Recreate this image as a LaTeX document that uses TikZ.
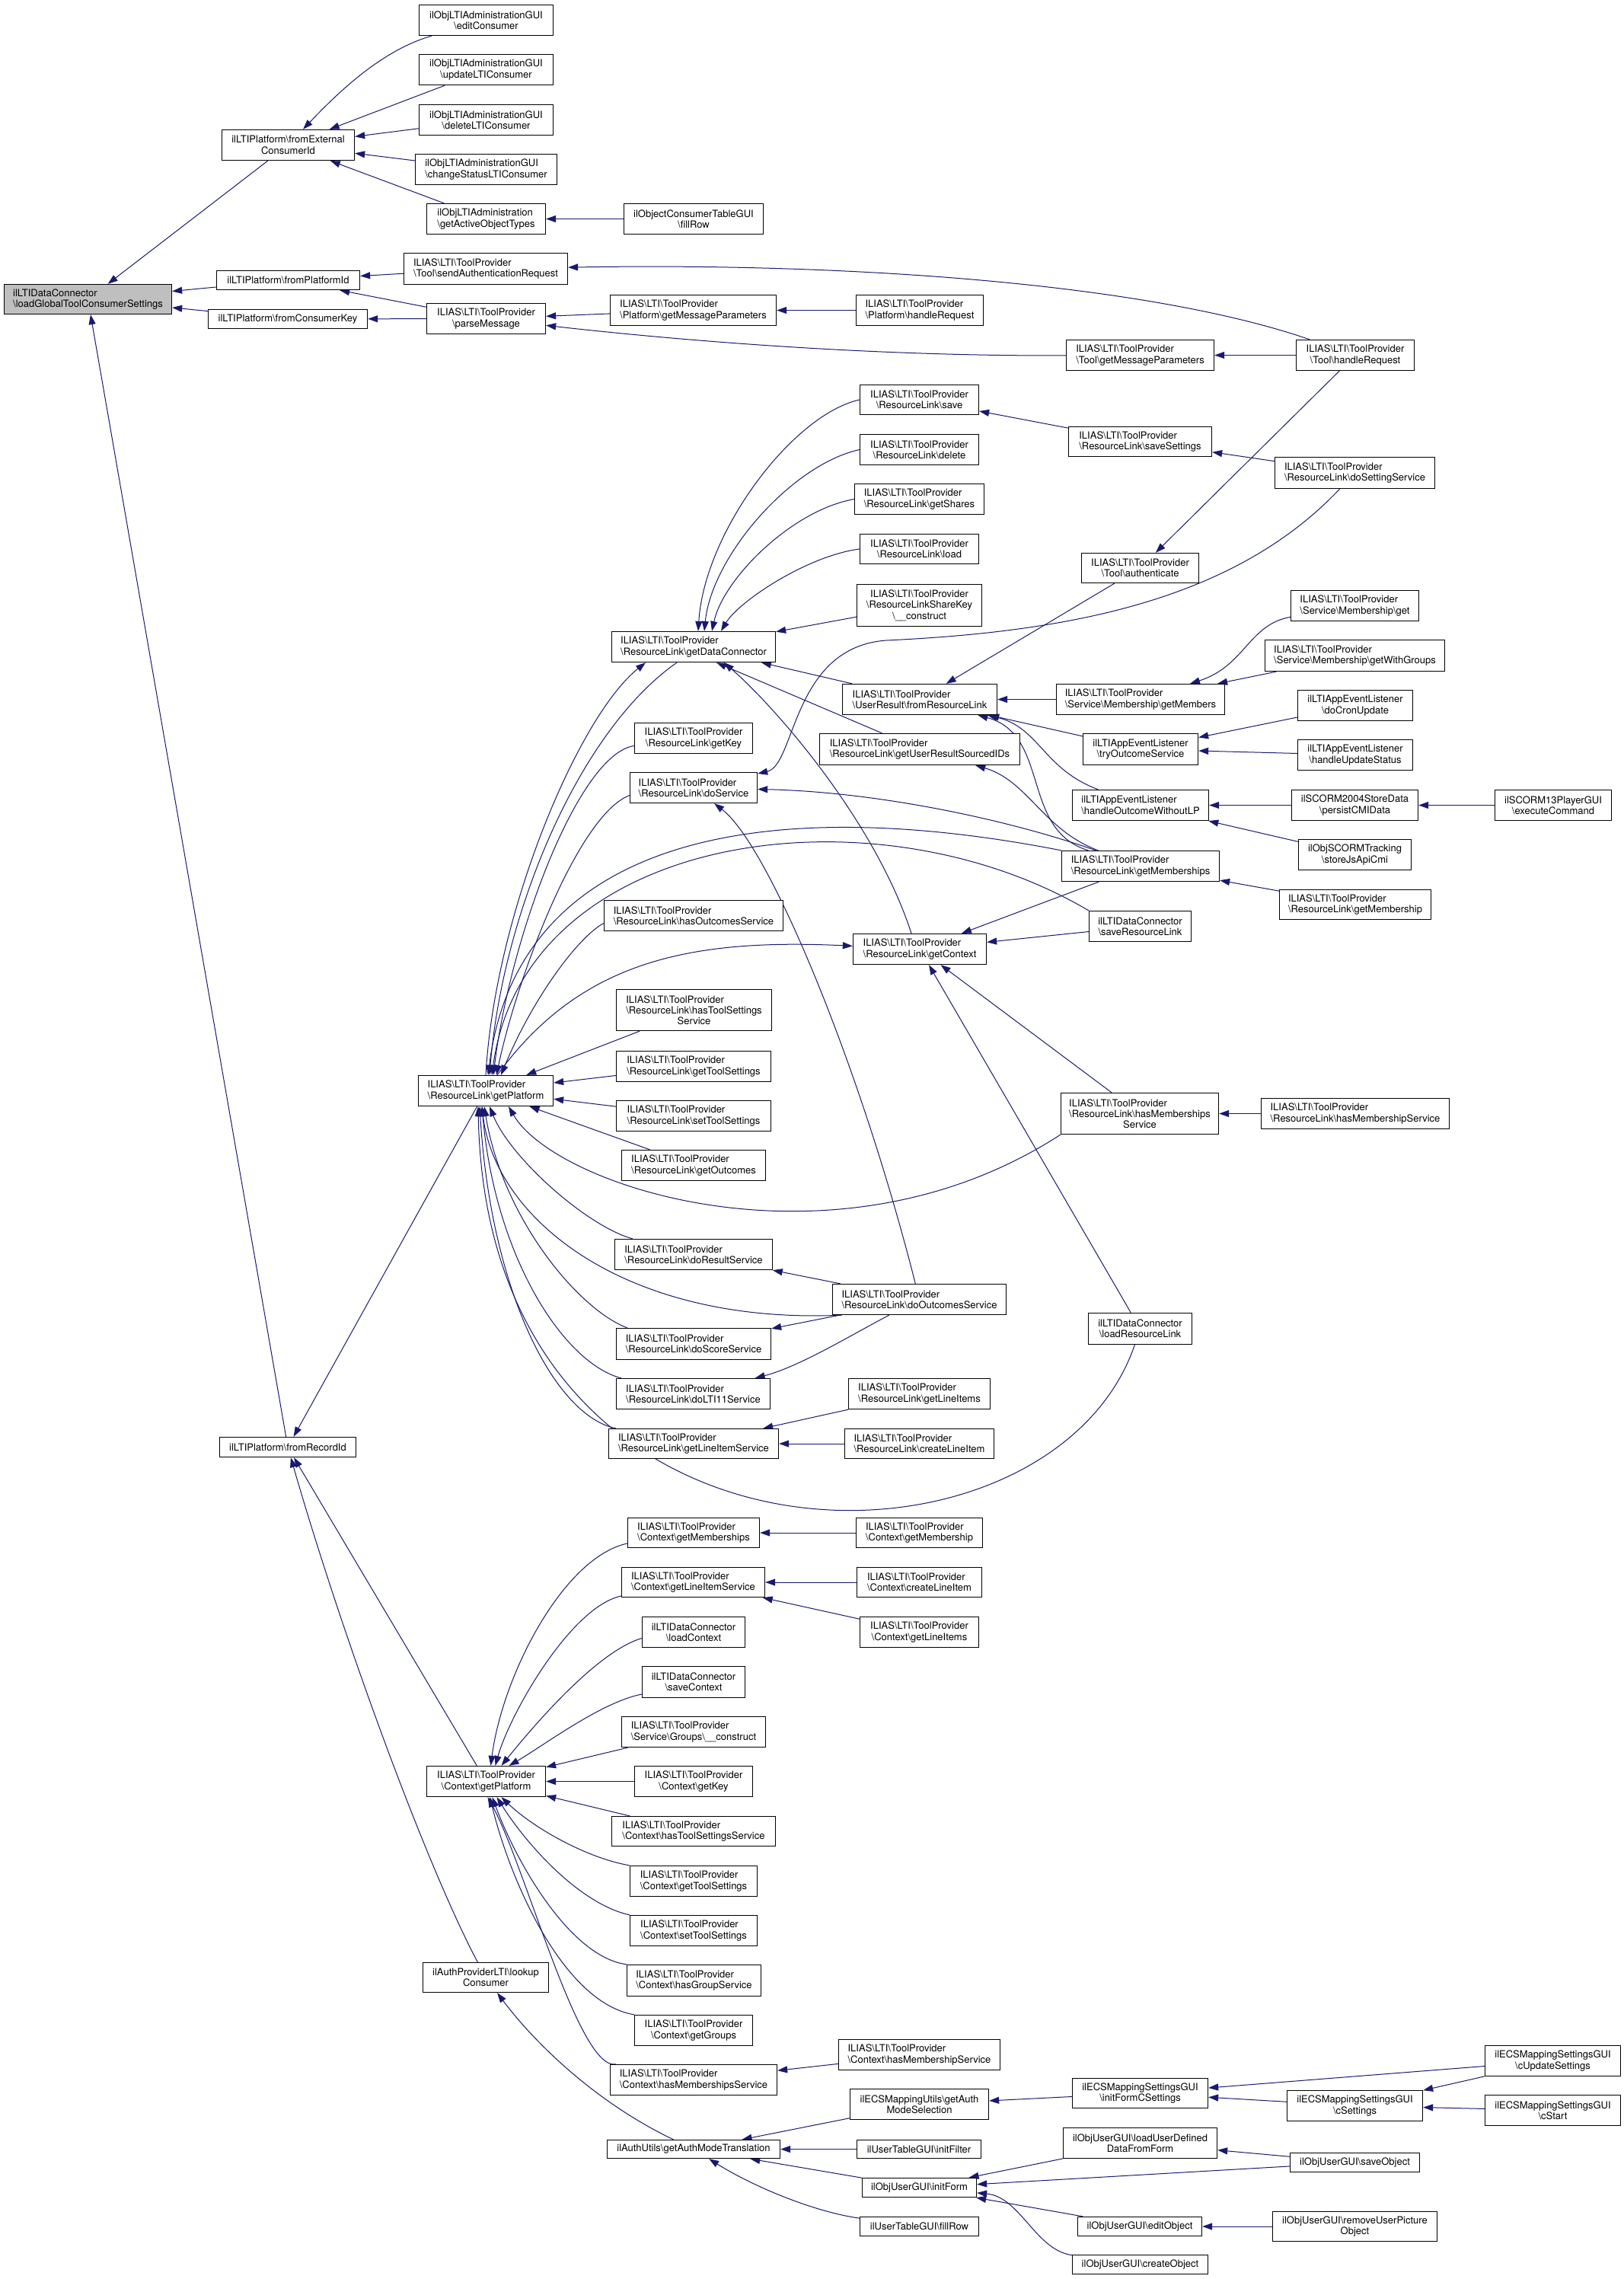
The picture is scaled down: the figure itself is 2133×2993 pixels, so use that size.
\documentclass[tikz,border=0pt]{standalone}
\usepackage{fontspec}
\setmainfont{TeX Gyre Heros}
\usetikzlibrary{arrows.meta}
\definecolor{ecol}{HTML}{191970}
\definecolor{rootfill}{HTML}{BFBFBF}
\pgfdeclarelayer{edgelayer}
\pgfsetlayers{edgelayer,main}
\newcommand\bsl{\textbackslash}
\newcommand\tpv{ILIAS\bsl LTI\bsl ToolProvider}
\newcommand\mynode[7]{%
 \pgfmathsetmacro\myxa{round(#3)+0.5}\pgfmathsetmacro\myxb{round(#5)+0.5}%
 \pgfmathsetmacro\myya{round(#4)+0.5}\pgfmathsetmacro\myyb{round(#6)+0.5}%
 \node[#2, minimum width={\myxb-\myxa}, minimum height={\myyb-\myya}] (#1) at ({(\myxa+\myxb)/2},{(\myya+\myyb)/2}) {#7};}
\newcommand\lthree[3]{\begin{tabular}[b]{@{}l@{}}#1\\#2\end{tabular}\\#3}
\tikzset{
 nb/.style={draw=black, line width=1.3pt, fill=white, inner sep=0pt, font=\fontsize{13}{14.4}\selectfont, text=black},
 nc/.style={nb, align=center},
 nl/.style={nb, align=left},
 e/.style={draw=ecol, line width=1pt, >={Triangle[length=13pt,width=9pt]}, <-},
}
\begin{document}
\begin{tikzpicture}[x=1pt,y=-1pt]
\useasboundingbox (0,0) rectangle (2133,2993);
% ---------- nodes ----------
\mynode{root}{nl,fill=rootfill}{4.5}{373.1}{225.3}{412.3}{ilLTIDataConnector\\\bsl loadGlobalToolConsumerSettings}
\mynode{fec}{nc}{290.6}{169.8}{465.2}{209.5}{ilLTIPlatform\bsl fromExternal\\ConsumerId}
\mynode{edc}{nc}{550}{5.7}{725.5}{45.9}{ilObjLTIAdministrationGUI\\\bsl editConsumer}
\mynode{ulc}{nc}{550}{71.3}{725.5}{111.4}{ilObjLTIAdministrationGUI\\\bsl updateLTIConsumer}
\mynode{dlc}{nc}{550}{136.8}{725.5}{176.5}{ilObjLTIAdministrationGUI\\\bsl deleteLTIConsumer}
\mynode{cslc}{nl}{545}{201.8}{730.5}{242.0}{ilObjLTIAdministrationGUI\\\bsl changeStatusLTIConsumer}
\mynode{gaot}{nl}{560.4}{266.9}{715.5}{307.1}{ilObjLTIAdministration\\\bsl getActiveObjectTypes}
\mynode{fpi}{nc}{283.8}{354.9}{471.5}{380.3}{ilLTIPlatform\bsl fromPlatformId}
\mynode{fck}{nc}{272.5}{405.6}{482.4}{430.5}{ilLTIPlatform\bsl fromConsumerKey}
\mynode{sar}{nl}{530}{332.4}{745}{372.6}{\tpv\\\bsl Tool\bsl sendAuthenticationRequest}
\mynode{pm}{nc}{560.4}{397.5}{715.5}{437.7}{\tpv\\\bsl parseMessage}
\mynode{ocfr}{nc}{818.5}{266.9}{1002.1}{307.1}{ilObjectConsumerTableGUI\\\bsl fillRow}
\mynode{pgmp}{nl}{801.2}{387.4}{1019.3}{427.1}{\tpv\\\bsl Platform\bsl getMessageParameters}
\mynode{phr}{nl}{1123.6}{387.4}{1290.5}{427.1}{\tpv\\\bsl Platform\bsl handleRequest}
\mynode{tgmp}{nl}{1399.7}{445.8}{1594.3}{486.0}{\tpv\\\bsl Tool\bsl getMessageParameters}
\mynode{rls}{nc}{1129.1}{504.6}{1284.6}{544.3}{\tpv\\\bsl ResourceLink\bsl save}
\mynode{rld}{nc}{1129.1}{570.1}{1284.6}{609.8}{\tpv\\\bsl ResourceLink\bsl delete}
\mynode{rlgs}{nl}{1121.8}{635.2}{1292.3}{674.9}{\tpv\\\bsl ResourceLink\bsl getShares}
\mynode{rll}{nc}{1129.1}{700.7}{1284.6}{740.4}{\tpv\\\bsl ResourceLink\bsl load}
\mynode{rlss}{nl}{1403.4}{559.6}{1590.7}{599.3}{\tpv\\\bsl ResourceLink\bsl saveSettings}
\mynode{thr}{nc}{1701.8}{445.8}{1856.8}{486.0}{\tpv\\\bsl Tool\bsl handleRequest}
\mynode{dss}{nl}{1674.1}{600.3}{1884.0}{640.5}{\tpv\\\bsl ResourceLink\bsl doSettingService}
\mynode{tau}{nc}{1420}{725.6}{1574.3}{765.3}{\tpv\\\bsl Tool\bsl authenticate}
\mynode{gdc}{nl}{802.6}{828.9}{1018.4}{868.6}{\tpv\\\bsl ResourceLink\bsl getDataConnector}
\mynode{rlsk}{nc}{1125.4}{766.7}{1288.6}{821.7}{\tpv\\\bsl ResourceLinkShareKey\\\bsl\_\_construct}
\mynode{urfr}{nl}{1105.9}{898.3}{1308.6}{938.0}{\tpv\\\bsl UserResult\bsl fromResourceLink}
\mynode{gk}{nc}{833.0}{948.5}{988.0}{988.7}{\tpv\\\bsl ResourceLink\bsl getKey}
\mynode{gurs}{nl}{1075.5}{963.3}{1338.5}{1003.5}{\tpv\\\bsl ResourceLink\bsl getUserResultSourcedIDs}
\mynode{dos}{nl}{826.6}{1013.6}{994.4}{1053.7}{\tpv\\\bsl ResourceLink\bsl doService}
\mynode{hos}{nl}{793.1}{1181.9}{1027.9}{1222.1}{\tpv\\\bsl ResourceLink\bsl hasOutcomesService}
\mynode{gctx}{nl}{1119.5}{1225.9}{1294.5}{1265.6}{\tpv\\\bsl ResourceLink\bsl getContext}
\mynode{htss}{nc}{808.5}{1298.6}{1012.5}{1353.1}{\lthree{\tpv}{\bsl ResourceLink\bsl hasToolSettings}{Service}}
\mynode{gts}{nl}{809.4}{1379.5}{1011.6}{1419.6}{\tpv\\\bsl ResourceLink\bsl getToolSettings}
\mynode{sts}{nl}{809.4}{1444.5}{1011.6}{1484.7}{\tpv\\\bsl ResourceLink\bsl setToolSettings}
\mynode{gp}{nl}{549.1}{1411.5}{726.4}{1451.7}{\tpv\\\bsl ResourceLink\bsl getPlatform}
\mynode{gms}{nl}{1393.8}{1116.9}{1600.6}{1156.6}{\tpv\\\bsl ResourceLink\bsl getMemberships}
\mynode{srl}{nc}{1429.7}{1196.3}{1564.4}{1236.4}{ilLTIDataConnector\\\bsl saveResourceLink}
\mynode{hms}{nc}{1392.5}{1434.5}{1600.0}{1489.0}{\lthree{\tpv}{\bsl ResourceLink\bsl hasMemberships}{Service}}
\mynode{smg}{nl}{1695.4}{774.9}{1862.7}{815.1}{\tpv\\\bsl Service\bsl Membership\bsl get}
\mynode{smgw}{nl}{1661.0}{840.4}{1897.2}{880.6}{\tpv\\\bsl Service\bsl Membership\bsl getWithGroups}
\mynode{smgm}{nl}{1386.6}{898.3}{1607.9}{938.0}{\tpv\\\bsl Service\bsl Membership\bsl getMembers}
\mynode{dcu}{nc}{1703.6}{905.9}{1855.0}{946.1}{ilLTIAppEventListener\\\bsl doCronUpdate}
\mynode{tos}{nc}{1422}{963.3}{1573}{1003.5}{ilLTIAppEventListener\\\bsl tryOutcomeService}
\mynode{hus}{nc}{1703.6}{971.0}{1855.0}{1011.2}{ilLTIAppEventListener\\\bsl handleUpdateStatus}
\mynode{howl}{nl}{1407.9}{1037.0}{1586.6}{1076.7}{ilLTIAppEventListener\\\bsl handleOutcomeWithoutLP}
\mynode{pcd}{nc}{1696.3}{1037.0}{1862.3}{1076.7}{ilSCORM2004StoreData\\\bsl persistCMIData}
\mynode{exc}{nc}{1962.5}{1037.0}{2116.2}{1076.7}{ilSCORM13PlayerGUI\\\bsl executeCommand}
\mynode{sjac}{nc}{1704.9}{1102.0}{1853.2}{1142.2}{ilObjSCORMTracking\\\bsl storeJsApiCmi}
\mynode{rlgm}{nl}{1679.5}{1167.6}{1878.6}{1207.3}{\tpv\\\bsl ResourceLink\bsl getMembership}
\mynode{rlhms}{nl}{1655.5}{1441.6}{1902.6}{1481.8}{\tpv\\\bsl ResourceLink\bsl hasMembershipService}
\mynode{goc}{nl}{816.2}{1509.6}{1004.8}{1549.7}{\tpv\\\bsl ResourceLink\bsl getOutcomes}
\mynode{drs}{nl}{807.1}{1627.2}{1013.9}{1666.9}{\tpv\\\bsl ResourceLink\bsl doResultService}
\mynode{dout}{nl}{1092.8}{1686.1}{1321.3}{1725.8}{\tpv\\\bsl ResourceLink\bsl doOutcomesService}
\mynode{dscs}{nl}{808.9}{1744.4}{1012.1}{1784.6}{\tpv\\\bsl ResourceLink\bsl doScoreService}
\mynode{dlti}{nl}{809.4}{1810.0}{1011.2}{1850.1}{\tpv\\\bsl ResourceLink\bsl doLTI11Service}
\mynode{rlgli}{nl}{1114.1}{1810.0}{1299.5}{1850.1}{\tpv\\\bsl ResourceLink\bsl getLineItems}
\mynode{glis}{nl}{799.0}{1875.5}{1021.6}{1915.2}{\tpv\\\bsl ResourceLink\bsl getLineItemService}
\mynode{rlcli}{nl}{1109.1}{1875.5}{1305.0}{1915.2}{\tpv\\\bsl ResourceLink\bsl createLineItem}
\mynode{lrl}{nc}{1429.3}{1723.8}{1564.8}{1764.5}{ilLTIDataConnector\\\bsl loadResourceLink}
\mynode{fri}{nc}{288.4}{1887.4}{467.0}{1913.3}{ilLTIPlatform\bsl fromRecordId}
\mynode{cgms}{nl}{823.9}{1992.6}{996.6}{2032.4}{\tpv\\\bsl Context\bsl getMemberships}
\mynode{cgm}{nl}{1124.1}{1992.6}{1290.0}{2032.4}{\tpv\\\bsl Context\bsl getMembership}
\mynode{cglis}{nl}{816.2}{2057.7}{1004.4}{2097.4}{\tpv\\\bsl Context\bsl getLineItemService}
\mynode{ccli}{nl}{1125.4}{2057.7}{1288.6}{2097.4}{\tpv\\\bsl Context\bsl createLineItem}
\mynode{lcx}{nc}{842.5}{2122.8}{978.1}{2162.9}{ilLTIDataConnector\\\bsl loadContext}
\mynode{cgli}{nc}{1129.1}{2122.8}{1284.6}{2162.9}{\tpv\\\bsl Context\bsl getLineItems}
\mynode{scx}{nc}{842.5}{2188.3}{978.1}{2228.5}{ilLTIDataConnector\\\bsl saveContext}
\mynode{cgp}{nc}{560.4}{2319.2}{715.5}{2359.0}{\tpv\\\bsl Context\bsl getPlatform}
\mynode{lc}{nc}{555.4}{2576.5}{720.1}{2616.3}{ilAuthProviderLTI\bsl lookup\\Consumer}
\mynode{sgc}{nl}{816.2}{2253.8}{1004.8}{2294.1}{\tpv\\\bsl Service\bsl Groups\bsl\_\_construct}
\mynode{cgk}{nc}{833.0}{2319.2}{988.0}{2359.0}{\tpv\\\bsl Context\bsl getKey}
\mynode{chts}{nl}{803.0}{2385.1}{1018.0}{2424.4}{\tpv\\\bsl Context\bsl hasToolSettingsService}
\mynode{cgts}{nl}{827.1}{2450.0}{993.9}{2489.8}{\tpv\\\bsl Context\bsl getToolSettings}
\mynode{cstts}{nl}{827.1}{2514.9}{993.9}{2555.2}{\tpv\\\bsl Context\bsl setToolSettings}
\mynode{chgs}{nl}{822.5}{2580.3}{998.5}{2620.6}{\tpv\\\bsl Context\bsl hasGroupService}
\mynode{cgg}{nc}{833.0}{2645.7}{988.0}{2686.0}{\tpv\\\bsl Context\bsl getGroups}
\mynode{chmss}{nl}{801.2}{2711.1}{1019.8}{2750.9}{\tpv\\\bsl Context\bsl hasMembershipsService}
\mynode{chmsv}{nl}{1100.9}{2677.9}{1313.2}{2718.2}{\tpv\\\bsl Context\bsl hasMembershipService}
\mynode{gams}{nc}{1115.9}{2743.3}{1298.2}{2783.1}{ilECSMappingUtils\bsl getAuth\\ModeSelection}
\mynode{gamt}{nc}{796.7}{2809.7}{1023.9}{2834.3}{ilAuthUtils\bsl getAuthModeTranslation}
\mynode{uif}{nc}{1125.4}{2809.7}{1288.2}{2834.3}{ilUserTableGUI\bsl initFilter}
\mynode{uifo}{nc}{1131.8}{2859.9}{1281.8}{2885.0}{ilObjUserGUI\bsl initForm}
\mynode{utfr}{nc}{1129.1}{2910.6}{1285.0}{2935.7}{ilUserTableGUI\bsl fillRow}
\mynode{ifcs}{nc}{1407.9}{2728.6}{1585.7}{2768.4}{ilECSMappingSettingsGUI\\\bsl initFormCSettings}
\mynode{cus}{nc}{1950.2}{2686.0}{2127.9}{2725.8}{ilECSMappingSettingsGUI\\\bsl cUpdateSettings}
\mynode{cs}{nc}{1690.4}{2744.7}{1868.2}{2784.5}{ilECSMappingSettingsGUI\\\bsl cSettings}
\mynode{cst}{nc}{1950.2}{2750.9}{2127.9}{2790.7}{ilECSMappingSettingsGUI\\\bsl cStart}
\mynode{ludf}{nc}{1396.1}{2794.0}{1597.5}{2833.8}{ilObjUserGUI\bsl loadUserDefined\\DataFromForm}
\mynode{uso}{nc}{1693.6}{2826.7}{1864.1}{2851.8}{ilObjUserGUI\bsl saveObject}
\mynode{ueo}{nc}{1415.2}{2910.6}{1578.4}{2935.7}{ilObjUserGUI\bsl editObject}
\mynode{rupo}{nc}{1670.9}{2903.5}{1887.2}{2943.3}{ilObjUserGUI\bsl removeUserPicture\\Object}
\mynode{uco}{nc}{1407.9}{2960.8}{1586.1}{2985.9}{ilObjUserGUI\bsl createObject}
% ---------- edges (arrow at callee), drawn behind the nodes ----------
\begin{pgfonlayer}{edgelayer}
\draw[e] (root) -- (fec);
\draw[e] (root) -- (fpi);
\draw[e] (root) -- (fck);
\draw[e] (root) -- (fri);
\draw[e] (fec) .. controls (450,115) and (505,65) .. (edc);
\draw[e] (fec) -- (ulc);
\draw[e] (fec) -- (dlc);
\draw[e] (fec) -- (cslc);
\draw[e] (fec) -- (gaot);
\draw[e] (gaot) -- (ocfr);
\draw[e] (fpi) -- (sar);
\draw[e] (fpi) -- (pm);
\draw[e] (fck) -- (pm);
\draw[e] (sar) .. controls (1100,345) and (1500,370) .. (thr);
\draw[e] (pm) -- (pgmp);
\draw[e] (pm) .. controls (900,448) and (1150,468) .. (tgmp);
\draw[e] (pgmp) -- (phr);
\draw[e] (tgmp) -- (thr);
\draw[e] (tau) -- (thr);
\draw[e] (rlss) -- (dss);
\draw[e] (rls) -- (rlss);
\draw[e] ([xshift=6pt]gdc.north) .. controls (925,700) and (1040,545) .. (rls.west);
\draw[e] ([xshift=14pt]gdc.north) .. controls (935,730) and (1040,610) .. (rld.west);
\draw[e] ([xshift=24pt]gdc.north) .. controls (950,760) and (1040,670) .. (rlgs.west);
\draw[e] ([xshift=36pt]gdc.north) .. controls (970,790) and (1060,730) .. (rll.west);
\draw[e] (gdc) -- (rlsk);
\draw[e] (gdc) -- (urfr);
\draw[e] ([xshift=30pt]gdc.south) -- (gurs);
\draw[e] ([xshift=40pt]gdc.south) .. controls (1020,930) and (1150,1080) .. ([xshift=-11pt]gctx.north);
\draw[e] (urfr) -- (tau);
\draw[e] (urfr) -- (smgm);
\draw[e] (smgm) .. controls (1635,875) and (1640,820) .. (smg);
\draw[e] (smgm) -- (smgw);
\draw[e] (tos) -- (dcu);
\draw[e] (tos) -- (hus);
\draw[e] (urfr) -- (tos);
\draw[e] (urfr) .. controls (1365,955) and (1370,1010) .. (howl);
\draw[e] (howl) -- (pcd);
\draw[e] (pcd) -- (exc);
\draw[e] (howl) -- (sjac);
\draw[e] (gms) -- (rlgm);
\draw[e] (urfr) .. controls (1380,965) and (1340,1090) .. (gms);
\draw[e] (gurs) .. controls (1350,1025) and (1370,1090) .. (gms);
\draw[e] (dos) .. controls (1045,1005) and (1040,850) .. (1164,841) .. controls (1400,830) and (1620,790) .. (dss);
\draw[e] (dos) .. controls (1150,1040) and (1320,1075) .. (gms);
\draw[e] (dos) .. controls (1010,1110) and (1130,1400) .. (dout);
\draw[e] (gctx) -- (gms);
\draw[e] (gctx) -- (srl);
\draw[e] (gctx) -- (lrl);
\draw[e] (gctx) -- (hms);
\draw[e] (hms) -- (rlhms);
\draw[e] (gctx) .. controls (900,1232) and (760,1265) .. (gp);
% getPlatform callers
\draw[e] ([xshift=5pt]gp.north) .. controls (660,1200) and (760,960) .. ([xshift=-22pt]gdc.south);
\draw[e] ([xshift=-63pt]gdc.south) .. controls (760,940) and (650,1200) .. (gp.north);
\draw[e] ([xshift=10pt]gp.north) .. controls (670,1230) and (760,990) .. ([yshift=-10pt]gk.west);
\draw[e] ([xshift=14pt]gp.north) .. controls (680,1280) and (760,1070) .. ([yshift=-10pt]dos.west);
\draw[e] ([xshift=20pt]gp.north) .. controls (700,1310) and (760,1230) .. ([yshift=-10pt]hos.west);
\draw[e] ([xshift=3pt]gp.north) .. controls (680,1100) and (1000,1040) .. (gms.north west);
\draw[e] ([xshift=8pt]gp.north) .. controls (690,1090) and (1150,1030) .. (srl.north west);
\draw[e] (gp) -- (htss);
\draw[e] (gp) -- (gts);
\draw[e] (gp) -- (sts);
\draw[e] (gp) -- (goc);
\draw[e] ([xshift=30pt]gp.south) .. controls (730,1560) and (1100,1680) .. (hms.south west);
\draw[e] ([xshift=5pt]gp.south) .. controls (670,1520) and (770,1610) .. ([xshift=24pt]drs.north west);
\draw[e] ([xshift=-5pt]gp.south) .. controls (650,1600) and (820,1740) .. ([xshift=13pt]dout.south west);
\draw[e] ([xshift=-2pt]gp.south) .. controls (660,1600) and (760,1720) .. ([xshift=15pt]dscs.north west);
\draw[e] ([xshift=-5pt]gp.south) .. controls (650,1650) and (740,1790) .. ([xshift=7pt]dlti.north west);
\draw[e] ([xshift=-8pt]gp.south) .. controls (645,1700) and (730,1860) .. ([xshift=10pt]glis.north west);
\draw[e] ([xshift=-10pt]gp.south) .. controls (640,2100) and (1380,2090) .. (lrl);
\draw[e] (fri) -- (gp);
\draw[e] (fri) -- (cgp);
\draw[e] (fri) .. controls (450,2150) and (560,2450) .. (lc);
% Context getPlatform callers
\draw[e] ([xshift=6pt]cgp.north) .. controls (660,2200) and (740,2045) .. ([yshift=-14pt]cgms.west);
\draw[e] ([xshift=12pt]cgp.north) .. controls (670,2250) and (750,2110) .. ([yshift=-18pt]cglis.west);
\draw[e] ([xshift=20pt]cgp.north) .. controls (690,2280) and (780,2170) .. ([yshift=-8pt]lcx.west);
\draw[e] ([xshift=30pt]cgp.north) .. controls (710,2295) and (790,2235) .. ([yshift=-16pt]scx.west);
\draw[e] (cgp) -- (sgc);
\draw[e] (cgp) -- (cgk);
\draw[e] (cgp) -- (chts);
\draw[e] ([xshift=20pt]cgp.south) .. controls (700,2400) and (770,2440) .. (cgts.north west);
\draw[e] ([xshift=14pt]cgp.south) .. controls (690,2420) and (760,2500) .. (cstts.north west);
\draw[e] ([xshift=8pt]cgp.south) .. controls (680,2450) and (750,2570) .. (chgs.north west);
\draw[e] ([xshift=5pt]cgp.south) .. controls (670,2470) and (740,2630) .. (cgg.north west);
\draw[e] ([xshift=2pt]cgp.south) .. controls (690,2450) and (760,2720) .. ([xshift=8pt]chmss.north west);
\draw[e] (chmss) -- (chmsv);
\draw[e] (cgms) -- (cgm);
\draw[e] (cglis) -- (ccli);
\draw[e] (cglis) -- (cgli);
\draw[e] (lc) .. controls (700,2680) and (780,2760) .. (gamt);
\draw[e] (gamt) -- (gams);
\draw[e] (gamt) -- (uif);
\draw[e] (gamt) -- (uifo);
\draw[e] (gamt) .. controls (990,2872) and (1070,2905) .. (utfr);
\draw[e] (gams) -- (ifcs);
\draw[e] (ifcs) -- (cus);
\draw[e] (ifcs) -- (cs);
\draw[e] (cs) -- (cus);
\draw[e] (cs) -- (cst);
\draw[e] (uifo) -- (ludf);
\draw[e] (uifo) -- (uso);
\draw[e] (uifo) -- (ueo);
\draw[e] (uifo) .. controls (1340,2885) and (1360,2955) .. (uco);
\draw[e] (ludf) -- (uso);
\draw[e] (ueo) -- (rupo);
\draw[e] (drs) -- (dout);
\draw[e] (dscs) -- (dout);
\draw[e] (dlti) .. controls (1050,1795) and (1120,1752) .. (dout);
\draw[e] (glis) -- (rlgli);
\draw[e] (glis) -- (rlcli);
\end{pgfonlayer}
\end{tikzpicture}
\end{document}
